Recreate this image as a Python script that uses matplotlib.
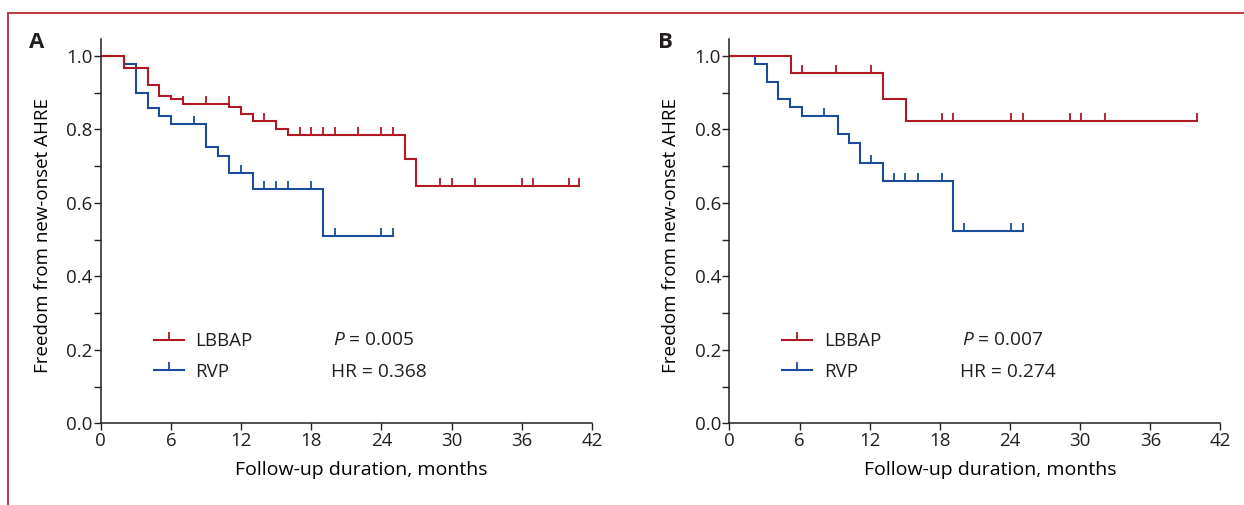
import numpy as np
import matplotlib
matplotlib.use("Agg")
import matplotlib.pyplot as plt
from matplotlib.lines import Line2D
from matplotlib.path import Path

# ---- data ----
# panel A
a_lbbap_t = [0, 2, 4, 5, 6, 7, 11, 12, 13, 15, 16, 26, 27]
a_lbbap_s = [1.0, 0.966, 0.920, 0.892, 0.882, 0.869, 0.862, 0.843, 0.823, 0.802, 0.784, 0.720, 0.647]
a_lbbap_end = 40.9
a_lbbap_cens = [7, 9, 10.95, 14, 17, 18, 19, 20, 22, 24, 25, 29, 30, 32, 36, 37, 40, 40.9]

a_rvp_t = [0, 2, 3, 4, 5, 6, 9, 10, 11, 13, 19]
a_rvp_s = [1.0, 0.978, 0.899, 0.858, 0.836, 0.814, 0.751, 0.727, 0.682, 0.638, 0.509]
a_rvp_end = 25
a_rvp_cens = [8, 12, 14, 15, 16, 18, 20, 24, 25]

# panel B
b_lbbap_t = [0, 5.3, 13.1, 15.1]
b_lbbap_s = [1.0, 0.953, 0.882, 0.822]
b_lbbap_end = 40.0
b_lbbap_cens = [6.2, 9.1, 12.1, 18.2, 19.1, 24.1, 25.1, 29.1, 30.1, 32.1, 40.0]

b_rvp_t = [0, 2.2, 3.2, 4.2, 5.2, 6.2, 9.3, 10.2, 11.2, 13.1, 19.1]
b_rvp_s = [1.0, 0.978, 0.930, 0.883, 0.860, 0.837, 0.787, 0.762, 0.707, 0.658, 0.523]
b_rvp_end = 25.1
b_rvp_cens = [8.1, 12.1, 14.1, 15.0, 16.1, 18.2, 20.1, 24.1, 25.1]

stats_a = ["0.005", "0.368"]
stats_b = ["0.007", "0.274"]
xticks = [0, 6, 12, 18, 24, 30, 36, 42]
yticks = [0.0, 0.2, 0.4, 0.6, 0.8, 1.0]

# ---- style ----
RED = "#b01822"
BLUE = "#1b4c9b"
TXT = "#231f20"
FONT = "Open Sans"
plt.rcParams["font.family"] = [FONT, "DejaVu Sans"]
plt.rcParams["mathtext.fontset"] = "custom"
plt.rcParams["mathtext.it"] = FONT + ":italic"
plt.rcParams["mathtext.rm"] = FONT
plt.rcParams["text.color"] = TXT

# censor mark: short vertical stroke going up from the line
cens_marker = Path([(0, 0), (0, 1)], [Path.MOVETO, Path.LINETO])


def km(ax, t, s, end, cens, color):
    tt = list(t) + [end]
    ss = list(s) + [s[-1]]
    ax.step(tt, ss, where="post", color=color, lw=1.5, solid_joinstyle="miter")
    # level of the curve at each censoring time
    idx = np.searchsorted(t, cens, side="right") - 1
    cy = np.array(s)[idx]
    ax.plot(cens, cy, ls="none", marker=cens_marker, ms=11.5, mew=1.3, color=color)


fig = plt.figure(figsize=(12.44, 5.05), dpi=100)

panels = [
    (0.081, "A", (a_lbbap_t, a_lbbap_s, a_lbbap_end, a_lbbap_cens),
     (a_rvp_t, a_rvp_s, a_rvp_end, a_rvp_cens), stats_a),
    (0.5863, "B", (b_lbbap_t, b_lbbap_s, b_lbbap_end, b_lbbap_cens),
     (b_rvp_t, b_rvp_s, b_rvp_end, b_rvp_cens), stats_b),
]

for left, letter, red, blue, st in panels:
    ax = fig.add_axes([left, 0.1618, 0.3948, 0.7604])
    km(ax, *blue, BLUE)
    km(ax, *red, RED)

    ax.set_xlim(0, 42)
    ax.set_ylim(0, 1.045)
    ax.set_xticks(xticks)
    ax.set_yticks(yticks)
    ax.set_yticks(np.arange(0.1, 1.0, 0.2), minor=True)
    ax.set_yticklabels([f"{v:.1f}" for v in yticks])
    ax.tick_params(axis="both", which="both", direction="out", length=5, width=1.0,
                   colors=TXT, labelsize=13.5)
    ax.tick_params(axis="y", pad=1)
    ax.tick_params(axis="x", pad=1)
    for side in ["top", "right"]:
        ax.spines[side].set_visible(False)
    for side in ["left", "bottom"]:
        ax.spines[side].set_linewidth(1.1)
        ax.spines[side].set_color(TXT)

    ax.set_ylabel("Freedom from new-onset AHRE", fontsize=13.5)
    ax.yaxis.set_label_coords(-0.10, 0.49)
    ax.set_xlabel("Follow-up duration, months", fontsize=14)
    ax.xaxis.set_label_coords(0.531, -0.098)

    handles = [Line2D([], [], color=RED, lw=1.5, marker=cens_marker, ms=11.5, mew=1.3),
               Line2D([], [], color=BLUE, lw=1.5, marker=cens_marker, ms=11.5, mew=1.3)]
    ax.legend(handles, ["LBBAP", "RVP"], loc="upper left", bbox_to_anchor=(0.108, 0.237),
              frameon=False, fontsize=13.5, handlelength=1.6, handletextpad=0.6,
              labelspacing=0.68, borderpad=0, borderaxespad=0, numpoints=1)
    ax.text(0.473, 0.217, r"$\mathit{P}$ = " + st[0], transform=ax.transAxes,
            fontsize=13.8, va="center", ha="left")
    ax.text(0.469, 0.134, "HR = " + st[1], transform=ax.transAxes,
            fontsize=13.8, va="center", ha="left")

    fig.text(left - 0.0573, 1 - 48.3 / 505, letter, fontsize=16, fontweight="bold",
             ha="left", va="baseline")

# journal frame lines (top and left)
fig.add_artist(Line2D([0.0064, 1.0], [0.9737, 0.9737], transform=fig.transFigure,
                      color="#be3a40", lw=1.4))
fig.add_artist(Line2D([0.0064, 0.0064], [0.0, 0.9737], transform=fig.transFigure,
                      color="#be3a40", lw=1.4))

fig.savefig("out.png", dpi=100)
